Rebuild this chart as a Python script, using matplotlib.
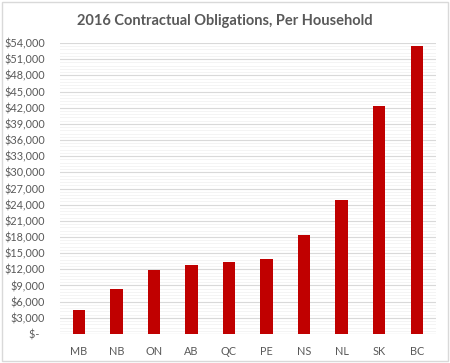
import matplotlib
matplotlib.use("Agg")
import matplotlib.pyplot as plt
from matplotlib.patches import Rectangle
from matplotlib.ticker import MultipleLocator, FuncFormatter

# data
provinces = ["MB", "NB", "ON", "AB", "QC", "PE", "NS", "NL", "SK", "BC"]
per_household = [4450, 8400, 11800, 12750, 13300, 13950, 18400, 24900, 42400, 53400]

plt.rcParams['font.family'] = ['Lato', 'DejaVu Sans']

fig = plt.figure(figsize=(4.5, 3.63), dpi=100)
ax = fig.add_axes([0.1333, 0.0799, 0.8345, 0.8016])

# chart border
fig.patches.append(Rectangle((0.004, 0.005), 0.992, 0.99, transform=fig.transFigure,
                             fill=False, edgecolor='#D9D9D9', linewidth=1))

ax.bar(range(len(provinces)), per_household, width=0.33, color='#C00000', zorder=3)

ax.set_xlim(-0.5, len(provinces) - 0.5)
ax.set_ylim(0, 54000)
ax.yaxis.set_major_locator(MultipleLocator(3000))
ax.yaxis.set_minor_locator(MultipleLocator(600))


def money(v, pos):
    if v == 0:
        return '$-  '
    return f'${v:,.0f}'


ax.yaxis.set_major_formatter(FuncFormatter(money))
ax.grid(axis='y', which='major', color='#D9D9D9', linewidth=0.8, zorder=0)
ax.grid(axis='y', which='minor', color='#F2F2F2', linewidth=0.6, zorder=0)

ax.set_xticks(range(len(provinces)))
ax.set_xticklabels(provinces)
ax.tick_params(axis='both', which='both', length=0, labelsize=7.8, labelcolor='#595959')
ax.tick_params(axis='y', pad=11)
ax.tick_params(axis='x', pad=9)

for s in ax.spines.values():
    s.set_visible(False)
ax.axhline(0, color='#D9D9D9', linewidth=0.8, zorder=2)

fig.text(0.5, 0.942, '2016 Contractual Obligations, Per Household', ha='center', va='center',
         fontsize=10.5, fontweight='bold', color='#595959')

fig.savefig('out.png', dpi=100)
